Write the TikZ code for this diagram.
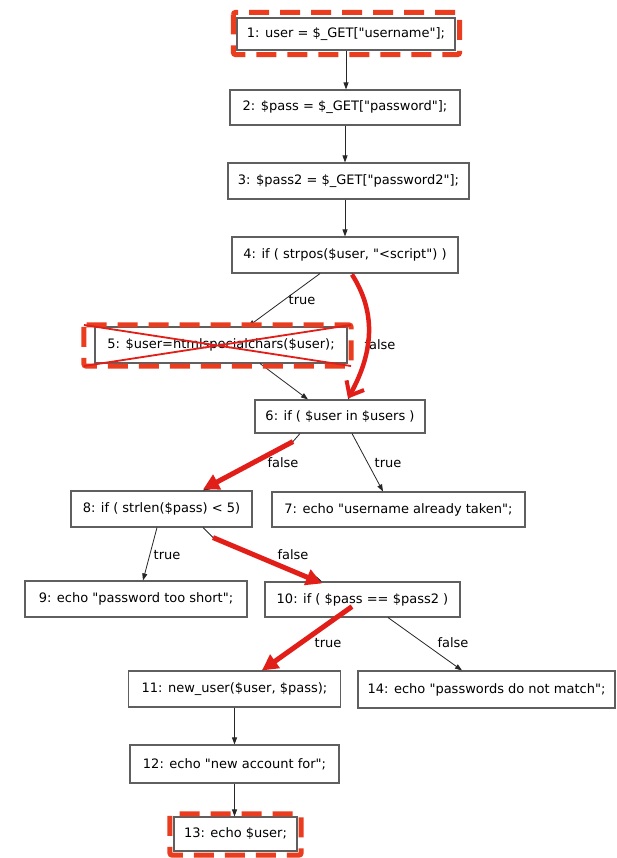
\documentclass[tikz,border=0pt]{standalone}
\usepackage{fontspec}
\setmainfont{DejaVu Sans}[Ligatures=TeXOff]
\usetikzlibrary{arrows.meta,calc}
\definecolor{boxline}{RGB}{95,95,95}
\definecolor{hotred}{RGB}{226,30,24}
\definecolor{dashred}{RGB}{234,60,30}
\begin{document}
\begin{tikzpicture}[x=1pt,y=-1pt,
  stmt/.style={draw=boxline,line width=1.1pt,fill=white,inner sep=0pt,
    font=\fontsize{13}{15}\selectfont},
  flow/.style={draw=black!85,line width=0.8pt,-{Triangle[length=7pt,width=5pt]}},
  lbl/.style={inner sep=1pt,font=\fontsize{13}{15}\selectfont},
  hotpath/.style={draw=hotred,line width=5pt,-{Triangle[length=16pt,width=16pt]}},
  frame/.style={draw=dashred,line width=5pt,dash pattern=on 20pt off 11pt,rounded corners=2pt},
]
\useasboundingbox (0,0) rectangle (616,858);
\fill[white] (0,0) rectangle (616,858);

% statements of the script
\node[stmt,minimum width=218pt,minimum height=32pt] (n1)  at (346,34)    {1: user = \$\_GET["username"];};
\node[stmt,minimum width=230pt,minimum height=35pt] (n2)  at (345,107.5) {2: \$pass = \$\_GET["password"];};
\node[stmt,minimum width=241pt,minimum height=36pt] (n3)  at (348.5,181) {3: \$pass2 = \$\_GET["password2"];};
\node[stmt,minimum width=226pt,minimum height=36pt] (n4)  at (345,255)   {4: if ( strpos(\$user, "<script") )};
\node[stmt,minimum width=252pt,minimum height=36pt] (n5)  at (221,345)   {5: \$user=htmlspecialchars(\$user);};
\node[stmt,minimum width=170pt,minimum height=33pt] (n6)  at (340,416.5) {6: if ( \$user in \$users )};
\node[stmt,minimum width=253pt,minimum height=35pt] (n7)  at (398.5,509.5) {7: echo "username already taken";};
\node[stmt,minimum width=181pt,minimum height=36pt] (n8)  at (161.5,509) {8: if ( strlen(\$pass) < 5)};
\node[stmt,minimum width=222pt,minimum height=36pt] (n9)  at (136,599)   {9: echo "password too short";};
\node[stmt,minimum width=195pt,minimum height=35pt] (n10) at (362.5,599.5) {10: if ( \$pass == \$pass2 )};
\node[stmt,minimum width=212pt,minimum height=36pt] (n11) at (234.5,689) {11: new\_user(\$user, \$pass);};
\node[stmt,minimum width=257pt,minimum height=37pt] (n14) at (486.5,689.5) {14: echo "passwords do not match";};
\node[stmt,minimum width=209pt,minimum height=38pt] (n12) at (234.5,764) {12: echo "new account for";};
\node[stmt,minimum width=123pt,minimum height=34pt] (n13) at (235.5,834) {13: echo \$user;};

% control-flow edges
\draw[flow] (n1.south) -- (n1.south |- n2.north);
\draw[flow] (n2.south) -- (n2.south |- n3.north);
\draw[flow] (n4.north |- n3.south) -- (n4.north);
\draw[flow] ($(n4.south)+(-25,0)$) -- ($(n5.north)+(27,0)$);
\draw[flow] ($(n4.south)+(7,0)$) .. controls ($(n4.south)+(30,37)$) and ($(n6.north)+(35,-50)$) .. ($(n6.north)+(8,0)$);
\draw[flow] ($(n5.south)+(39,0)$) -- ($(n6.north)+(-32,0)$);
\draw[flow] ($(n6.south)+(-40,0)$) -- ($(n6.south)+(-47,8)$) -- ($(n8.north)+(41.5,0)$);
\draw[flow] ($(n6.south)+(12,0)$) -- ($(n7.north)+(-15.5,0)$);
\draw[flow] ($(n8.south)+(-4.5,0)$) -- ($(n9.north)+(7,0)$);
\draw[flow] ($(n8.south)+(41.5,0)$) -- ($(n8.south)+(51.5,10)$) -- ($(n10.north)+(-40.5,0)$);
\draw[flow] ($(n10.south)+(-26,0)$) -- ($(n11.north)+(27.5,0)$);
\draw[flow] ($(n10.south)+(25.5,0)$) -- ($(n14.north)+(-24.5,0)$);
\draw[flow] (n12.north |- n11.south) -- (n12.north);
\draw[flow] (n12.south) -- (n12.south |- n13.north);

% branch labels
\node[lbl] (t45)  at (302,300) {true};
\node[lbl] (f46)  at (380,345) {false};
\node[lbl] (f68)  at (283,463) {false};
\node[lbl] (t67)  at (388,463) {true};
\node[lbl] (t89)  at (167,555) {true};
\node[lbl] (f810) at (293,555) {false};
\node[lbl] (t1011) at (328,643) {true};
\node[lbl] (f1014) at (453,643) {false};

% highlighted path
\draw[draw=hotred,line width=4.5pt,-{Straight Barb[length=12pt,width=20pt,line width=4pt]}]
  ($(n4.south)+(7,1)$) .. controls ($(n4.south)+(30,37)$) and ($(n6.north)+(35,-50)$) .. ($(n6.north)+(8,-1)$);
\draw[hotpath] ($(n6.south)+(-47,8)$) -- ($(n8.north)+(41.5,-1)$);
\draw[hotpath] ($(n8.south)+(51.5,10)$) -- ($(n10.north)+(-40.5,2)$);
\draw[hotpath] ($(n10.south)+(-10.5,-11)$) -- ($(n11.north)+(27.5,0)$);

% dashed frames around source, removed sanitiser and sink
\draw[frame] ($(n1.north west)+(-3,-5)$) rectangle ($(n1.south east)+(4,4)$);
\draw[frame] ($(n5.north west)+(-10.5,-1.5)$) coordinate (c5a) rectangle ($(n5.south east)+(3.5,2.5)$) coordinate (c5b);
\draw[frame] ($(n13.north west)+(-3.5,-2.5)$) rectangle ($(n13.south east)+(3.5,3.5)$);
\draw[draw=hotred,line width=1.8pt] (c5a) -- (c5b) (c5a |- c5b) -- (c5b |- c5a);
\end{tikzpicture}
\end{document}
